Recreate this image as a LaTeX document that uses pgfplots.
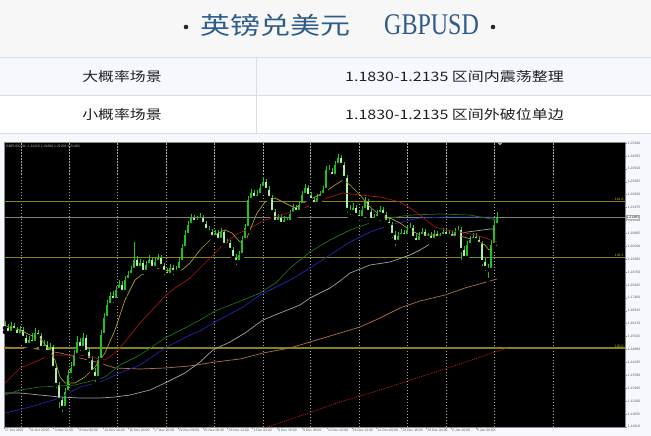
\documentclass[border=0pt]{standalone}
\usepackage{fontspec}
\setmainfont{Liberation Sans}
\newfontfamily\cjk{Noto Sans CJK SC}
\newfontfamily\lserif{Liberation Serif}
\usepackage{graphicx}
\usepackage{pgfplots}
\usepackage{pgfplotstable}
\pgfplotsset{compat=1.18}
\newcommand\tinyfont{\fontsize{3.4}{4}\selectfont}
\definecolor{pagebg}{HTML}{F5F8FC}
\definecolor{titlebg}{HTML}{F7F7F7}
\definecolor{rowone}{HTML}{F5F9FE}
\definecolor{rowline}{HTML}{DADDE2}
\definecolor{titleblue}{HTML}{2E5C89}
\definecolor{cgreen}{HTML}{1FC41F}
\definecolor{cbear}{HTML}{B0F2A8}
\definecolor{maYellow}{HTML}{A89A1E}
\definecolor{maRed}{HTML}{A0141A}
\definecolor{maGreen}{HTML}{1D6E1D}
\definecolor{maBlue}{HTML}{2424B4}
\definecolor{maGray}{HTML}{A0A0A0}
\definecolor{maBrown}{HTML}{B07048}
\definecolor{maDot}{HTML}{B01C1C}
\definecolor{fib}{HTML}{84841A}
\definecolor{fibtext}{HTML}{B8B830}
\definecolor{axgray}{HTML}{8C8C8C}
\definecolor{gridgray}{HTML}{A8A8A8}
\definecolor{labgray}{HTML}{5A5A5A}

\pgfplotstableread{
x o h l c
5 1.1610 1.1630 1.1575 1.1595
8 1.1595 1.1615 1.1550 1.1570
11 1.1570 1.1625 1.1555 1.1605
14 1.1605 1.1620 1.1565 1.1585
17 1.1585 1.1600 1.1540 1.1560
20 1.1560 1.1605 1.1545 1.1585
23 1.1585 1.1600 1.1525 1.1545
26 1.1545 1.1560 1.1485 1.1510
29 1.1510 1.1555 1.1495 1.1535
32 1.1535 1.1570 1.1500 1.1520
35 1.1520 1.1595 1.1505 1.1570
38 1.1570 1.1585 1.1535 1.1555
41 1.1555 1.1570 1.1475 1.1495
44 1.1495 1.1535 1.1475 1.1510
47 1.1510 1.1530 1.1455 1.1475
50 1.1475 1.1520 1.1455 1.1500
53 1.1500 1.1510 1.1375 1.1395
56 1.1395 1.1410 1.1285 1.1310
59 1.1310 1.1325 1.1185 1.1235
62 1.1235 1.1255 1.1165 1.1195
65 1.1195 1.1295 1.1175 1.1275
68 1.1275 1.1385 1.1260 1.1360
71 1.1360 1.1425 1.1335 1.1395
74 1.1395 1.1485 1.1375 1.1460
77 1.1460 1.1555 1.1445 1.1525
80 1.1525 1.1545 1.1470 1.1495
83 1.1495 1.1570 1.1475 1.1545
86 1.1545 1.1560 1.1455 1.1475
89 1.1475 1.1495 1.1410 1.1435
92 1.1435 1.1455 1.1355 1.1375
95 1.1375 1.1395 1.1315 1.1345
98 1.1345 1.1455 1.1325 1.1435
101 1.1435 1.1585 1.1415 1.1560
104 1.1560 1.1670 1.1545 1.1645
107 1.1645 1.1735 1.1625 1.1710
110 1.1710 1.1775 1.1690 1.1755
113 1.1755 1.1780 1.1710 1.1735
116 1.1735 1.1805 1.1720 1.1785
119 1.1785 1.1835 1.1765 1.1810
122 1.1810 1.1830 1.1755 1.1775
125 1.1775 1.1855 1.1760 1.1835
128 1.1835 1.1880 1.1815 1.1860
131 1.1860 1.1905 1.1840 1.1885
134 1.1885 1.2025 1.1865 1.1935
137 1.1935 1.1955 1.1875 1.1895
140 1.1895 1.1940 1.1875 1.1920
143 1.1920 1.1935 1.1850 1.1875
146 1.1875 1.1930 1.1855 1.1910
149 1.1910 1.1960 1.1890 1.1935
152 1.1935 1.1950 1.1875 1.1895
155 1.1895 1.1945 1.1875 1.1925
158 1.1925 1.1965 1.1905 1.1945
161 1.1945 1.1960 1.1885 1.1905
164 1.1905 1.1920 1.1850 1.1875
167 1.1875 1.1895 1.1840 1.1860
170 1.1860 1.1915 1.1845 1.1895
173 1.1895 1.1910 1.1850 1.1875
176 1.1875 1.1905 1.1855 1.1885
179 1.1885 1.1945 1.1865 1.1925
182 1.1925 1.2015 1.1910 1.1995
185 1.1995 1.2085 1.1980 1.2060
188 1.2060 1.2130 1.2045 1.2110
191 1.2110 1.2165 1.2095 1.2145
194 1.2145 1.2160 1.2105 1.2125
197 1.2125 1.2155 1.2110 1.2135
200 1.2135 1.2170 1.2115 1.2145
203 1.2145 1.2160 1.2095 1.2115
206 1.2115 1.2130 1.2065 1.2085
209 1.2085 1.2105 1.2055 1.2075
212 1.2075 1.2090 1.2030 1.2050
215 1.2050 1.2085 1.2035 1.2070
218 1.2070 1.2085 1.2015 1.2035
221 1.2035 1.2095 1.2020 1.2075
224 1.2075 1.2085 1.1990 1.2010
227 1.2010 1.2040 1.1995 1.2020
230 1.2020 1.2035 1.1965 1.1985
233 1.1985 1.2000 1.1925 1.1945
236 1.1945 1.1965 1.1900 1.1925
239 1.1925 1.1980 1.1905 1.1960
242 1.1960 1.2055 1.1945 1.2035
245 1.2035 1.2115 1.2020 1.2095
248 1.2095 1.2255 1.2080 1.2235
251 1.2235 1.2290 1.2215 1.2270
254 1.2270 1.2285 1.2225 1.2245
257 1.2245 1.2285 1.2230 1.2260
260 1.2260 1.2315 1.2245 1.2295
263 1.2295 1.2350 1.2280 1.2325
266 1.2325 1.2340 1.2265 1.2285
269 1.2285 1.2305 1.2225 1.2245
272 1.2245 1.2260 1.2155 1.2175
275 1.2175 1.2190 1.2105 1.2125
278 1.2125 1.2165 1.2105 1.2145
281 1.2145 1.2160 1.2095 1.2115
284 1.2115 1.2155 1.2100 1.2135
287 1.2135 1.2150 1.2105 1.2125
290 1.2125 1.2185 1.2110 1.2165
293 1.2165 1.2215 1.2150 1.2195
296 1.2195 1.2210 1.2155 1.2175
299 1.2175 1.2230 1.2160 1.2210
302 1.2210 1.2280 1.2195 1.2260
305 1.2260 1.2315 1.2240 1.2295
308 1.2295 1.2310 1.2235 1.2255
311 1.2255 1.2275 1.2215 1.2235
314 1.2235 1.2250 1.2195 1.2215
317 1.2215 1.2265 1.2200 1.2245
320 1.2245 1.2280 1.2230 1.2260
323 1.2260 1.2305 1.2245 1.2285
326 1.2285 1.2405 1.2270 1.2385
329 1.2385 1.2410 1.2355 1.2375
332 1.2375 1.2395 1.2335 1.2355
335 1.2355 1.2430 1.2340 1.2410
338 1.2410 1.2465 1.2395 1.2445
341 1.2445 1.2460 1.2390 1.2410
344 1.2410 1.2425 1.2325 1.2345
347 1.2345 1.2360 1.2160 1.2185
350 1.2185 1.2210 1.2150 1.2175
353 1.2175 1.2220 1.2155 1.2195
356 1.2195 1.2210 1.2140 1.2160
359 1.2160 1.2180 1.2120 1.2145
362 1.2145 1.2205 1.2125 1.2185
365 1.2185 1.2250 1.2165 1.2225
368 1.2225 1.2240 1.2155 1.2175
371 1.2175 1.2190 1.2115 1.2135
374 1.2135 1.2165 1.2120 1.2145
377 1.2145 1.2185 1.2130 1.2165
380 1.2165 1.2205 1.2150 1.2185
383 1.2185 1.2200 1.2140 1.2160
386 1.2160 1.2175 1.2105 1.2125
389 1.2125 1.2145 1.2090 1.2110
392 1.2110 1.2125 1.2035 1.2060
395 1.2060 1.2080 1.1995 1.2025
398 1.2025 1.2075 1.2005 1.2055
401 1.2055 1.2090 1.2040 1.2070
404 1.2070 1.2085 1.2035 1.2055
407 1.2055 1.2105 1.2040 1.2085
410 1.2085 1.2120 1.2070 1.2095
413 1.2095 1.2110 1.2025 1.2045
416 1.2045 1.2065 1.2005 1.2025
419 1.2025 1.2075 1.2010 1.2055
422 1.2055 1.2095 1.2040 1.2075
425 1.2075 1.2090 1.2025 1.2045
428 1.2045 1.2070 1.2030 1.2055
431 1.2055 1.2075 1.2015 1.2035
434 1.2035 1.2085 1.2020 1.2065
437 1.2065 1.2080 1.2025 1.2045
440 1.2045 1.2070 1.2030 1.2055
443 1.2055 1.2095 1.2040 1.2075
446 1.2075 1.2090 1.2035 1.2055
449 1.2055 1.2080 1.2040 1.2065
452 1.2065 1.2080 1.2025 1.2045
455 1.2045 1.2095 1.2030 1.2075
458 1.2075 1.2105 1.2060 1.2085
461 1.2085 1.2100 1.1925 1.1985
464 1.1985 1.2005 1.1925 1.1945
467 1.1945 1.2030 1.1930 1.2010
470 1.2010 1.2055 1.1995 1.2035
473 1.2035 1.2070 1.2025 1.2050
476 1.2050 1.2070 1.2015 1.2035
479 1.2035 1.2055 1.1995 1.2015
482 1.2015 1.2030 1.1895 1.1925
485 1.1925 1.1945 1.1870 1.1895
488 1.1895 1.1915 1.1835 1.1885
491 1.1885 1.2035 1.1865 1.2010
494 1.2010 1.2135 1.1995 1.2110
497 1.2110 1.2175 1.2095 1.2150
}\candles

\begin{document}
\begin{tikzpicture}
\useasboundingbox (0,0) rectangle (651pt,-436pt);
\clip (0,0) rectangle (651pt,-436pt);
\fill[pagebg] (0,0) rectangle (651pt,-436pt);
\fill[titlebg] (0,0) rectangle (651pt,-57pt);
\fill[rowone] (0,-57pt) rectangle (651pt,-95pt);
\fill[white] (0,-95pt) rectangle (651pt,-133pt);
\draw[rowline, line width=0.8pt] (0,-57pt) -- (651pt,-57pt) (0,-95pt) -- (651pt,-95pt) (0,-133pt) -- (651pt,-133pt) (256pt,-57pt) -- (256pt,-133pt);

% title
\fill[black!85] (186pt,-27pt) circle (2.3pt);
\node[anchor=west, inner sep=0, text=titleblue] at (200pt,-25pt) {\scalebox{1.25}[1]{\cjk\fontsize{24}{24}\selectfont 英镑兑美元}};
\node[anchor=west, inner sep=0, text=titleblue] at (384pt,-25pt) {\scalebox{0.80}[1]{\lserif\fontsize{30}{30}\selectfont GBPUSD}};
\fill[black!85] (493pt,-27pt) circle (2.3pt);

% table rows
\node[inner sep=0, text=black!88] at (122pt,-77pt) {\scalebox{1.22}[1]{\cjk\fontsize{13}{13}\selectfont 大概率场景}};
\node[anchor=west, inner sep=0, text=black!88] at (345pt,-77pt) {\scalebox{1.23}[1]{\cjk\fontsize{13}{13}\selectfont 1.1830-1.2135 区间内震荡整理}};
\node[inner sep=0, text=black!88] at (122pt,-115pt) {\scalebox{1.22}[1]{\cjk\fontsize{13}{13}\selectfont 小概率场景}};
\node[anchor=west, inner sep=0, text=black!88] at (345pt,-115pt) {\scalebox{1.23}[1]{\cjk\fontsize{13}{13}\selectfont 1.1830-1.2135 区间外破位单边}};

\begin{axis}[
  at={(4pt,-427pt)}, anchor=south west,
  scale only axis, width=621pt, height=285pt,
  xmin=4, xmax=625, ymin=1.1100, ymax=1.2525,
  axis background/.style={fill=black},
  axis line style={draw=axgray, line width=0.6pt},
  tick style={draw=axgray, line width=0.4pt},
  tick align=outside, major tick length=2pt,
  xtick pos=left, ytick pos=right, yticklabel pos=right,
  xtick={4,28.84,53.68,78.52,103.36,128.2,153.04,177.88,202.72,227.56,252.4,277.24,302.08,326.92,351.76,376.6,401.44,426.28,451.12,475.96},
  xticklabels={27 Oct 2022,31 Oct 20:00,3 Nov 12:00,8 Nov 00:00,10 Nov 16:00,15 Nov 04:00,17 Nov 20:00,22 Nov 08:00,25 Nov 00:00,29 Nov 12:00,2 Dec 04:00,6 Dec 16:00,9 Dec 08:00,13 Dec 20:00,16 Dec 12:00,21 Dec 00:00,23 Dec 16:00,29 Dec 04:00,2 Jan 16:00,5 Jan 08:00},
  xticklabel style={anchor=north west, inner sep=0.3pt, xshift=0.6pt, font=\tinyfont, text=labgray},
  ytick={1.25200,1.24555,1.23910,1.23265,1.22620,1.21975,1.21330,1.20685,1.20040,1.19395,1.18750,1.18105,1.17460,1.16815,1.16170,1.15525,1.14880,1.14235,1.13590,1.12945,1.12300,1.11655,1.11010},
  yticklabel={\pgfmathprintnumber[fixed,fixed zerofill,precision=5,assume math mode=true]{\tick}},
  yticklabel style={anchor=west, inner sep=0.3pt, xshift=0.4pt, font=\tinyfont, text=labgray},
  extra x ticks={21,69,117,166,214,263,310,359,407,446,494,553},
  extra x tick labels={},
  extra x tick style={grid=major, major tick length=0pt, major grid style={draw=gridgray, dash pattern=on 1.5pt off 1.5pt, line width=0.5pt}},
  clip=true,
]
% fibonacci levels and bid line
\addplot[fib, line width=0.8pt] coordinates {(4,1.2230) (625,1.2230)};
\addplot[fib, line width=0.8pt] coordinates {(4,1.1950) (625,1.1950)};
\addplot[fib, line width=1.4pt] coordinates {(4,1.1495) (625,1.1495)};
\addplot[gray, line width=0.6pt] coordinates {(4,1.2150) (625,1.2150)};

% candles: wicks
\addplot[only marks, mark=none, forget plot,
  error bars/.cd, y dir=plus, y explicit, error mark=none,
  error bar style={draw=cgreen, line width=0.6pt}]
  table[x=x, y=l, y error expr=\thisrow{h}-\thisrow{l}] {\candles};
% bullish bodies
\addplot[only marks, mark=none, forget plot,
  restrict expr to domain={\thisrow{c}-\thisrow{o}}{0:1},
  error bars/.cd, y dir=plus, y explicit, error mark=none,
  error bar style={draw=cgreen, line width=1.6pt}]
  table[x=x, y=o, y error expr=\thisrow{c}-\thisrow{o}] {\candles};
% bearish bodies
\addplot[only marks, mark=none, forget plot,
  restrict expr to domain={\thisrow{o}-\thisrow{c}}{0:1},
  error bars/.cd, y dir=plus, y explicit, error mark=none,
  error bar style={draw=cbear, line width=1.6pt}]
  table[x=x, y=c, y error expr=\thisrow{o}-\thisrow{c}] {\candles};

% moving averages
\addplot[maDot, line width=0.8pt, dash pattern=on 1pt off 1pt] coordinates {(250,1.1070) (300,1.1155) (340,1.1225) (380,1.1285) (420,1.1350) (460,1.1415) (495,1.1475) (507,1.1495)};
\addplot[maBrown, line width=0.7pt] coordinates {(5,1.1500) (30,1.1495) (60,1.1470) (80,1.1445) (100,1.1420) (115,1.1395) (140,1.1390) (165,1.1395) (190,1.1405) (215,1.1425) (240,1.1440) (263,1.1470) (290,1.1495) (310,1.1525) (340,1.1570) (360,1.1600) (380,1.1645) (400,1.1695) (420,1.1730) (445,1.1760) (465,1.1795) (490,1.1830) (497,1.1840)};
\addplot[maGray, line width=0.7pt] coordinates {(5,1.1270) (20,1.1270) (40,1.1260) (60,1.1250) (80,1.1245) (100,1.1245) (115,1.1250) (130,1.1260) (150,1.1285) (165,1.1320) (185,1.1370) (200,1.1425) (213,1.1485) (230,1.1525) (245,1.1570) (263,1.1635) (280,1.1670) (300,1.1710) (310,1.1745) (330,1.1795) (340,1.1830) (350,1.1870) (370,1.1910) (390,1.1925) (410,1.1960) (420,1.1985) (440,1.2045) (460,1.2070) (475,1.2080) (490,1.2090) (497,1.2090)};
\addplot[maBlue, line width=0.7pt] coordinates {(5,1.1170) (30,1.1200) (60,1.1245) (80,1.1300) (100,1.1325) (120,1.1370) (140,1.1410) (165,1.1495) (190,1.1560) (200,1.1580) (215,1.1625) (243,1.1700) (260,1.1760) (290,1.1835) (310,1.1895) (330,1.1960) (350,1.2025) (370,1.2075) (390,1.2110) (410,1.2135) (420,1.2145) (450,1.2150) (490,1.2150) (497,1.2135)};
\addplot[maGreen, line width=0.7pt] coordinates {(5,1.1260) (20,1.1285) (40,1.1300) (60,1.1305) (75,1.1310) (95,1.1335) (105,1.1350) (120,1.1410) (140,1.1460) (165,1.1545) (185,1.1595) (200,1.1635) (215,1.1680) (243,1.1735) (260,1.1770) (277,1.1825) (290,1.1895) (310,1.1975) (330,1.2035) (350,1.2085) (370,1.2120) (390,1.2145) (410,1.2160) (440,1.2165) (470,1.2160) (480,1.2150) (497,1.2135)};
\addplot[maRed, line width=0.7pt] coordinates {(5,1.1320) (20,1.1395) (35,1.1425) (50,1.1460) (65,1.1460) (80,1.1460) (95,1.1445) (105,1.1435) (115,1.1470) (125,1.1525) (140,1.1620) (155,1.1700) (165,1.1755) (175,1.1795) (190,1.1845) (200,1.1895) (210,1.1945) (220,1.1995) (235,1.2060) (250,1.2095) (265,1.2135) (280,1.2160) (300,1.2185) (315,1.2220) (330,1.2250) (343,1.2270) (360,1.2260) (380,1.2250) (400,1.2225) (410,1.2195) (420,1.2160) (435,1.2100) (445,1.2085) (460,1.2075) (475,1.2060) (485,1.2045) (497,1.2025)};
\addplot[maYellow, line width=0.7pt] coordinates {(5,1.1605) (20,1.1585) (30,1.1560) (40,1.1545) (47,1.1500) (55,1.1435) (60,1.1350) (65,1.1320) (75,1.1320) (85,1.1350) (95,1.1400) (105,1.1470) (115,1.1585) (125,1.1735) (135,1.1835) (145,1.1875) (155,1.1895) (165,1.1885) (175,1.1875) (182,1.1885) (190,1.1920) (200,1.1985) (210,1.2035) (218,1.2070) (225,1.2085) (232,1.2070) (240,1.2025) (245,1.2020) (250,1.2085) (257,1.2170) (265,1.2225) (275,1.2245) (285,1.2220) (295,1.2195) (305,1.2225) (315,1.2250) (325,1.2275) (335,1.2310) (343,1.2335) (350,1.2310) (360,1.2260) (370,1.2200) (380,1.2160) (390,1.2145) (400,1.2120) (410,1.2085) (420,1.2060) (440,1.2060) (460,1.2055) (475,1.2035) (485,1.2010) (489,1.1985) (497,1.2010)};
\end{axis}

% chart annotations
\node[anchor=west, inner sep=0, font=\tinyfont, text=gray!55] at (6pt,-146.5pt) {GBPUSD,H4\ \ 1.21215 1.21609 1.21208 1.21483};
\node[anchor=south east, inner sep=0.4pt, font=\tinyfont, text=fibtext] at (624pt,-201pt) {161.8};
\node[anchor=south east, inner sep=0.4pt, font=\tinyfont, text=fibtext] at (624pt,-257pt) {138.2};
\node[anchor=south east, inner sep=0.4pt, font=\tinyfont, text=fibtext] at (624pt,-348pt) {100.0};
\node[anchor=west, fill=white, draw=gray!60, line width=0.3pt, inner sep=0.5pt, font=\tinyfont, text=black] at (626pt,-217pt) {1.21483};
\fill[gray!70] (497pt,-142.3pt) -- (503pt,-142.3pt) -- (500pt,-145.3pt) -- cycle;
\end{tikzpicture}
\end{document}
